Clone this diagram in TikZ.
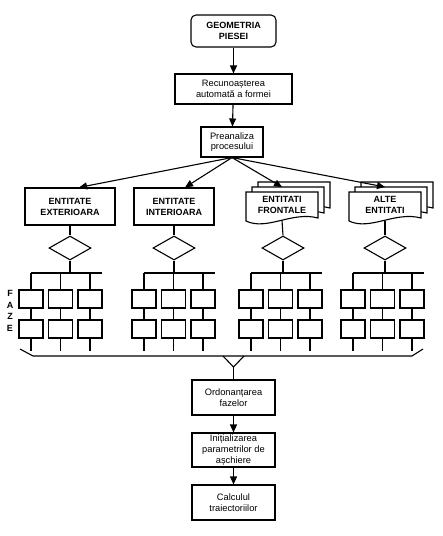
\documentclass[tikz,border=0pt]{standalone}
\usepackage{fontspec}
\setmainfont{Liberation Sans}
\usetikzlibrary{arrows.meta,shapes.geometric,calc}
\begin{document}
\begin{tikzpicture}[x=1pt,y=-1pt, line width=1.1pt,
  arr/.style={-{Triangle[length=8pt,width=7pt]}},
  box/.style={draw, fill=white, inner sep=0pt, align=center, minimum width=83pt, font=\fontsize{9.3}{10.8}\selectfont},
  ebox/.style={draw, fill=white, inner sep=0pt, align=center, minimum height=37pt, font=\bfseries\fontsize{9}{11}\selectfont},
  etext/.style={inner sep=0pt, align=center, minimum height=30pt, font=\bfseries\fontsize{9}{11}\selectfont},
  dia/.style={draw, diamond, fill=white, minimum width=42pt, minimum height=24pt, inner sep=0pt},
  fbox/.style={draw, fill=white, minimum width=24pt, minimum height=18pt, inner sep=0pt},
  fz/.style={font=\bfseries\fontsize{9}{9}\selectfont, inner sep=0pt},
  mdoc/.pic={
    \foreach \o in {2,1,0} {
      \draw[fill=white, shift={(6*\o,-5*\o)}] (-36,-14) -- (36,-14) -- (36,12) .. controls (10,5) and (-15,25) .. (-36,15) -- cycle;
    }
  }]
\fill[white] (0,0) rectangle (443,536);
\useasboundingbox (0,0) rectangle (443,536);

% top chain
\node[draw, rounded corners=5pt, minimum width=85pt, minimum height=32pt, inner sep=0pt, align=center, font=\bfseries\fontsize{9}{11}\selectfont] (geo) at (233.5,31) {GEOMETRIA\\PIESEI};
\node[box, minimum width=117pt, minimum height=30pt] (rec) at (233.5,89) {Recunoașterea\\automată a formei};
\node[box, minimum width=62pt, minimum height=30pt] (pre) at (232,142) {Preanaliza\\procesului};
\draw[arr] (geo) -- (rec);
\draw[arr] (rec) -- (pre);

% entities
\node[ebox, minimum width=90pt] (e1) at (70,206.5) {ENTITATE\\EXTERIOARA};
\node[ebox, minimum width=80pt] (e2) at (174,206.5) {ENTITATE\\INTERIOARA};
\pic at (282,206) {mdoc};
\node[etext] (e3) at (282,205) {ENTITATI\\FRONTALE};
\pic at (385,206) {mdoc};
\node[etext] (e4) at (385,205) {ALTE\\ENTITATI};
\coordinate (e3t) at (282,187);
\coordinate (e4t) at (385,187);

\draw[arr] (pre.south) -- ($(e1.north)+(9,0)$);
\draw[arr] (pre.south) -- ($(e2.north)+(11,0)$);
\draw[arr] (pre.south) -- (e3t);
\draw[arr] (pre.south) -- (e4t);

% diamonds
\foreach \n/\x in {1/70,2/174,3/283,4/385} {
  \node[dia] (d\n) at (\x,248) {};
  \draw (e\n.south) -- (d\n.north);
}

% phase groups
\foreach \g/\fx/\dx in {1/31/70,2/144/174,3/251/283,4/353/385} {
  \coordinate (bl\g) at (\fx,273);
  \coordinate (br\g) at (\fx+71,273);
  \coordinate (bm\g) at (\dx,273);
  \draw (bl\g) -- (br\g);
  \draw (d\g.south) -- (bm\g);
  \foreach \k in {0,1,2} {
    \node[fbox] (t\g\k) at (\fx+29.5*\k,299) {};
    \node[fbox] (b\g\k) at (\fx+29.5*\k,329) {};
    \coordinate (u\g\k) at (\fx+29.5*\k,273);
    \coordinate (s\g\k) at (\fx+29.5*\k,351);
    \draw (u\g\k) -- (t\g\k.north);
    \draw (t\g\k.south) -- (b\g\k.north);
    \draw (b\g\k.south) -- (s\g\k);
  }
}

% FAZE
\node[fz] (f1) at (10,293) {F};
\node[fz] (f2) at (10,305) {A};
\node[fz] (f3) at (10,316.5) {Z};
\node[fz] (f4) at (10,328) {E};

% bracket
\coordinate (k1) at (20,349);
\coordinate (k2) at (33,356);
\coordinate (k3) at (412,356);
\coordinate (k4) at (423,349);
\coordinate (v1) at (223,356);
\coordinate (v2) at (233.5,367);
\coordinate (v3) at (244,356);
\draw (k1) -- (k2) -- (k3) -- (k4);
\draw (v1) -- (v2) -- (v3);

% lower chain
\node[box, minimum height=35pt] (ord) at (233.5,397.5) {Ordonanțarea\\fazelor};
\node[box, minimum height=34pt] (ini) at (233.5,450) {Inițializarea\\parametrilor de\\așchiere};
\node[box, minimum height=35pt] (cal) at (233.5,502.5) {Calculul\\traiectoriilor};
\draw (v2) -- (ord.north);
\draw[arr] (ord) -- (ini);
\draw[arr] (ini) -- (cal);
\end{tikzpicture}
\end{document}
